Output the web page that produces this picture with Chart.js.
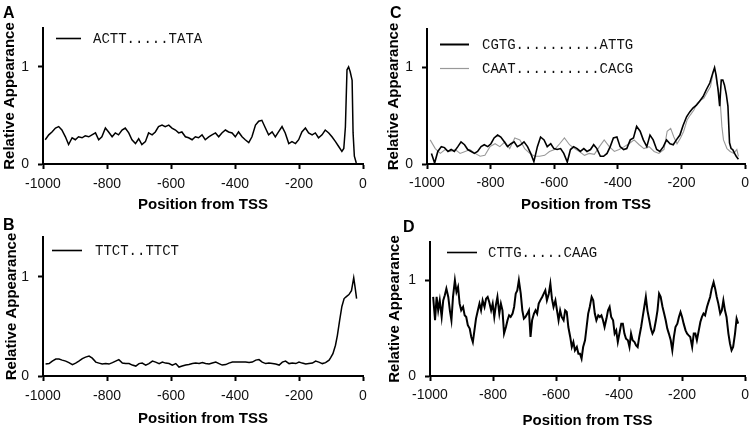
<!DOCTYPE html>
<html>
<head>
<meta charset="utf-8">
<script src="https://cdn.jsdelivr.net/npm/chart.js@4.4.1/dist/chart.umd.min.js"></script>
<style>
  html, body { margin: 0; padding: 0; background: #fff; }
  #wrap { position: relative; width: 755px; height: 429px; overflow: hidden; }
  canvas { position: absolute; }
</style>
</head>
<body>
<div id="wrap">
  <canvas id="chartA" width="378" height="214" style="left:0;top:0"></canvas>
  <canvas id="chartC" width="377" height="214" style="left:378px;top:0"></canvas>
  <canvas id="chartB" width="378" height="215" style="left:0;top:214px"></canvas>
  <canvas id="chartD" width="377" height="215" style="left:378px;top:214px"></canvas>
</div>
<script>
// axis ticks shared by all four panels
const xTicks = [-1000, -800, -600, -400, -200, 0];
const yTicks = [0, 1];
const xTitle = "Position from TSS";
const yTitle = "Relative Appearance";

// panel A
const labelA = "ACTT.....TATA";
const posA = [-993, -982, -972, -961, -951, -941, -930, -920, -909, -899,
  -889, -878, -868, -857, -847, -836, -826, -816, -805, -795,
  -784, -774, -764, -753, -743, -732, -722, -711, -701, -691,
  -680, -670, -659, -649, -639, -628, -618, -607, -597, -586,
  -576, -566, -555, -545, -534, -524, -514, -503, -493, -482,
  -472, -461, -451, -441, -430, -420, -409, -399, -389, -378,
  -368, -357, -347, -336, -326, -316, -305, -295, -284, -274,
  -264, -253, -243, -232, -222, -211, -201, -191, -180, -170,
  -159, -149, -139, -128, -118, -107, -97, -86, -76, -66,
  -60, -55, -50, -45, -40, -34, -31, -27, -21];
const valA = [0.25, 0.30, 0.33, 0.37, 0.385, 0.35, 0.28, 0.20, 0.27, 0.25,
  0.28, 0.27, 0.29, 0.28, 0.30, 0.32, 0.25, 0.28, 0.37, 0.33,
  0.28, 0.32, 0.30, 0.35, 0.37, 0.32, 0.25, 0.21, 0.26, 0.20,
  0.23, 0.32, 0.30, 0.33, 0.385, 0.40, 0.385, 0.40, 0.37, 0.35,
  0.32, 0.33, 0.28, 0.27, 0.25, 0.28, 0.27, 0.30, 0.25, 0.28,
  0.30, 0.32, 0.28, 0.32, 0.35, 0.33, 0.32, 0.28, 0.33, 0.28,
  0.25, 0.22, 0.28, 0.40, 0.44, 0.45, 0.37, 0.30, 0.33, 0.28,
  0.33, 0.385, 0.32, 0.21, 0.23, 0.21, 0.25, 0.33, 0.37, 0.32,
  0.30, 0.32, 0.27, 0.30, 0.35, 0.32, 0.28, 0.23, 0.18, 0.13,
  0.16, 0.38, 0.97, 1.0, 0.95, 0.86, 0.32, 0.08, 0.01];

// panel B
const labelB = "TTCT..TTCT";
const posB = [-992, -981, -971, -960, -950, -940, -929, -919, -908, -898,
  -888, -877, -867, -856, -846, -835, -825, -815, -804, -794,
  -783, -773, -763, -752, -742, -731, -721, -710, -700, -690,
  -679, -669, -658, -648, -637, -627, -617, -606, -596, -585,
  -575, -565, -554, -544, -533, -523, -512, -502, -492, -481,
  -471, -460, -450, -440, -429, -419, -408, -398, -388, -377,
  -367, -356, -346, -335, -325, -315, -304, -294, -283, -273,
  -262, -252, -242, -231, -221, -210, -200, -190, -179, -169,
  -158, -148, -138, -127, -117, -106,
  -101, -94, -86, -80, -73, -66, -59, -52, -44, -36, -29, -25, -20];
const valB = [0.12, 0.125, 0.15, 0.17, 0.17, 0.16, 0.15, 0.135, 0.115, 0.13,
  0.15, 0.175, 0.19, 0.2, 0.18, 0.14, 0.13, 0.12, 0.125, 0.12,
  0.135, 0.15, 0.165, 0.13, 0.125, 0.125, 0.11, 0.1, 0.125, 0.13,
  0.11, 0.125, 0.15, 0.14, 0.125, 0.14, 0.13, 0.125, 0.11, 0.125,
  0.09, 0.1, 0.11, 0.115, 0.125, 0.13, 0.125, 0.135, 0.125, 0.12,
  0.13, 0.14, 0.125, 0.11, 0.115, 0.13, 0.14, 0.14, 0.14, 0.14,
  0.14, 0.135, 0.14, 0.16, 0.165, 0.14, 0.125, 0.13, 0.125, 0.12,
  0.11, 0.14, 0.15, 0.125, 0.13, 0.125, 0.14, 0.13, 0.12, 0.125,
  0.13, 0.15, 0.14, 0.125, 0.135, 0.16,
  0.185, 0.225, 0.31, 0.41, 0.56, 0.70, 0.78, 0.80, 0.82, 0.86, 0.99, 0.90, 0.78];

// panel C, two motifs
const labelC1 = "CGTG..........ATTG";
const labelC2 = "CAAT..........CACG";
const posC1 = [-986, -976, -966, -955, -945, -934, -924, -914, -903, -893,
  -882, -872, -861, -851, -841, -830, -820, -809, -799, -789,
  -778, -768, -757, -747, -736, -726, -716, -705, -695, -684,
  -674, -664, -653, -643, -632, -622, -611, -601, -591, -580,
  -570, -559, -549, -539, -528, -518, -507, -497, -486, -476,
  -466, -455, -445, -434, -424, -414, -403, -393, -382, -372,
  -361, -351, -341, -330, -320, -309, -299, -289, -278, -268,
  -257, -247, -236, -226, -216, -205, -195, -184, -174, -164,
  -153, -143, -132, -122, -111, -101,
  -96, -91, -85, -80, -75, -70, -65, -59, -54, -49, -44, -39, -33, -28, -21];
const valC1 = [0.11, 0.01, 0.13, 0.18, 0.17, 0.13, 0.15, 0.13, 0.18, 0.23,
  0.2, 0.15, 0.13, 0.11, 0.13, 0.18, 0.2, 0.18, 0.21, 0.27,
  0.3, 0.28, 0.23, 0.18, 0.21, 0.23, 0.18, 0.2, 0.23, 0.18,
  0.11, 0.025, 0.18, 0.28, 0.25, 0.18, 0.21, 0.16, 0.15, 0.16,
  0.11, 0.02, 0.15, 0.18, 0.16, 0.13, 0.16, 0.13, 0.15, 0.2,
  0.16, 0.08, 0.08, 0.11, 0.18, 0.27, 0.28, 0.18, 0.15, 0.16,
  0.25, 0.27, 0.39, 0.34, 0.25, 0.18, 0.3, 0.25, 0.15, 0.13,
  0.18, 0.25, 0.21, 0.2, 0.25, 0.3, 0.4, 0.49, 0.54, 0.58,
  0.61, 0.65, 0.7, 0.77, 0.84, 0.95,
  1.0, 0.92, 0.77, 0.6, 0.87, 0.87, 0.82, 0.72, 0.6, 0.22, 0.16, 0.15, 0.11, 0.08, 0.05];
const posC2 = [-990, -974, -958, -943, -927, -911, -896, -880, -865, -849,
  -833, -818, -802, -786, -771, -755, -740, -724, -708, -693,
  -677, -661, -646, -630, -615, -599, -583, -568, -552, -536,
  -521, -505, -490, -474, -458, -443, -427, -411, -396, -380,
  -365, -349, -333, -318, -302, -286, -271, -255,
  -245, -234, -224, -214, -203, -193, -182, -172, -161, -151, -141, -130, -120, -109, -99,
  -94, -89, -83, -78, -73, -68, -57, -47, -36, -26, -21];
const valC2 = [0.25, 0.16, 0.11, 0.15, 0.13, 0.15, 0.11, 0.13, 0.15, 0.11,
  0.08, 0.09, 0.18, 0.21, 0.18, 0.23, 0.16, 0.27, 0.25, 0.16,
  0.11, 0.08, 0.08, 0.09, 0.13, 0.15, 0.21, 0.27, 0.2, 0.16,
  0.13, 0.09, 0.11, 0.1, 0.18, 0.25, 0.18, 0.13, 0.15, 0.18,
  0.21, 0.25, 0.2, 0.16, 0.18, 0.13, 0.11, 0.15,
  0.34, 0.37, 0.28, 0.21, 0.27, 0.34, 0.46, 0.51, 0.56, 0.63, 0.66, 0.68, 0.74, 0.8, 0.97,
  0.96, 0.84, 0.74, 0.63, 0.39, 0.25, 0.16, 0.13, 0.11, 0.15, 0.08];

// panel D
const labelD = "CTTG.....CAAG";
const posD = [-990, -984, -979, -974, -969, -963, -958, -953, -948, -942,
  -937, -932, -927, -921, -916, -911, -906, -901, -895, -890,
  -885, -880, -874, -869, -864, -859, -854, -848, -843, -838,
  -833, -827, -822, -817, -812, -806, -801, -796, -791, -786,
  -780, -775, -770, -765, -759, -754, -749, -744, -738, -733,
  -728, -723, -718, -712, -707, -702, -697, -691, -686, -681,
  -676, -670, -665, -660, -655, -650, -644, -639, -634, -629,
  -623, -618, -613, -608, -602, -597, -592, -587, -582, -576,
  -571, -566, -561, -555, -550, -545, -540, -534, -529, -524,
  -519, -514, -508, -503, -498, -493, -487, -482, -477, -472,
  -466, -461, -456, -451, -446, -440, -435, -430, -425, -419,
  -414, -409, -404, -398, -393, -388, -383, -378, -372, -367,
  -362, -357, -351, -346, -341, -336, -330, -325, -320, -315,
  -310, -304, -299, -294, -289, -283, -278, -273, -268, -262,
  -257, -252, -247, -242, -236, -231, -226, -221, -215, -210,
  -205, -200, -195, -189, -184, -179, -174, -168, -163, -158,
  -153, -147, -142, -137, -132, -127, -121, -116, -111, -106,
  -100, -95, -90, -85, -79, -74, -69, -64, -59, -53,
  -48, -43, -38, -32, -27, -22];
const valD = [0.826, 0.582, 0.826, 0.686, 0.79, 0.617, 0.79, 0.843, 0.913, 0.826,
  0.686, 0.582, 0.826, 1.0, 0.878, 0.93, 0.756, 0.686, 0.721, 0.634,
  0.617, 0.53, 0.495, 0.408, 0.355, 0.477, 0.6, 0.686, 0.756, 0.686,
  0.79, 0.721, 0.808, 0.826, 0.774, 0.686, 0.756, 0.617, 0.739, 0.826,
  0.652, 0.756, 0.686, 0.443, 0.512, 0.582, 0.634, 0.617, 0.652, 0.721,
  0.86, 0.895, 1.0, 0.86, 0.686, 0.6, 0.617, 0.652, 0.686, 0.408,
  0.582, 0.652, 0.686, 0.652, 0.756, 0.79, 0.826, 0.86, 0.895, 0.79,
  0.86, 0.965, 0.808, 0.721, 0.79, 0.686, 0.582, 0.686, 0.617, 0.582,
  0.686, 0.669, 0.512, 0.408, 0.303, 0.355, 0.268, 0.303, 0.233, 0.233,
  0.181, 0.303, 0.373, 0.512, 0.652, 0.721, 0.826, 0.79, 0.652, 0.582,
  0.634, 0.617, 0.634, 0.582, 0.512, 0.6, 0.686, 0.721, 0.617, 0.582,
  0.443, 0.477, 0.355, 0.46, 0.547, 0.547, 0.443, 0.39, 0.373, 0.303,
  0.443, 0.373, 0.355, 0.32, 0.303, 0.408, 0.512, 0.617, 0.721, 0.826,
  0.686, 0.582, 0.495, 0.443, 0.477, 0.582, 0.686, 0.86, 0.826, 0.721,
  0.652, 0.582, 0.495, 0.443, 0.373, 0.268, 0.408, 0.512, 0.547, 0.617,
  0.669, 0.617, 0.547, 0.477, 0.443, 0.425, 0.408, 0.303, 0.443, 0.443,
  0.373, 0.477, 0.564, 0.617, 0.652, 0.634, 0.721, 0.774, 0.826, 0.913,
  0.98, 0.913, 0.826, 0.756, 0.652, 0.686, 0.79, 0.686, 0.617, 0.443,
  0.338, 0.268, 0.303, 0.443, 0.6, 0.547];

function series(pos, val) {
  return pos.map((x, i) => ({ x: x, y: val[i] }));
}

// panel letter + inline legend drawn inside the plot area
const panelDecor = {
  id: "panelDecor",
  afterDraw(chart, args, o) {
    const { ctx, chartArea } = chart;
    ctx.save();
    ctx.fillStyle = "#000";
    ctx.textBaseline = "alphabetic";
    ctx.textAlign = "left";
    ctx.font = "bold 16px 'Liberation Sans', Arial, sans-serif";
    ctx.fillText(o.letter, o.letterX, o.letterY);

    ctx.font = "14px 'Courier New', 'Liberation Mono', monospace";
    ctx.textBaseline = "middle";
    chart.data.datasets.forEach((ds, i) => {
      const y = Math.round(chartArea.top + o.legendY + i * 24) + 0.5;
      const x0 = chartArea.left + o.legendX;
      ctx.strokeStyle = ds.borderColor;
      ctx.lineWidth = ds.legendWidth;
      ctx.beginPath();
      ctx.moveTo(x0, y);
      ctx.lineTo(x0 + o.legendLen, y);
      ctx.stroke();
      ctx.fillStyle = "#111";
      ctx.fillText(ds.label, chartArea.left + o.textX, y + 1);
    });
    ctx.restore();
  },
};

const tickFont = { family: "'Liberation Sans', Arial, sans-serif", size: 14 };
const titleFont = { family: "'Liberation Sans', Arial, sans-serif", size: 15, weight: "bold", lineHeight: 1 };

function makePanel(id, datasets, p) {
  return new Chart(document.getElementById(id), {
    type: "line",
    data: { datasets: datasets },
    options: {
      responsive: false,
      animation: false,
      devicePixelRatio: 1,
      layout: { padding: { top: p.top, right: p.right, bottom: 0, left: 0 } },
      elements: { point: { radius: 0 }, line: { tension: 0 } },
      plugins: {
        legend: { display: false },
        tooltip: { enabled: false },
        panelDecor: p.decor,
      },
      scales: {
        x: {
          type: "linear",
          min: -1000,
          max: 0,
          afterBuildTicks: (s) => { s.ticks = xTicks.map((v) => ({ value: v })); },
          afterFit: (s) => { s.height = p.xHeight; },
          ticks: { callback: (v) => String(v), font: tickFont, color: "#111", padding: p.xTickPad, maxRotation: 0 },
          grid: { drawOnChartArea: false, drawTicks: true, tickLength: 5, tickWidth: 2, tickColor: "#000" },
          border: { display: true, color: "#000", width: 2 },
          title: { display: true, text: xTitle, font: titleFont, color: "#000", padding: { top: 0, bottom: p.xTitlePad } },
        },
        y: {
          min: 0,
          max: 1.4,
          afterBuildTicks: (s) => { s.ticks = yTicks.map((v) => ({ value: v })); },
          afterFit: (s) => { s.width = p.yWidth; },
          ticks: { font: tickFont, color: "#111", padding: 9 },
          grid: { drawOnChartArea: false, drawTicks: true, tickLength: 5, tickWidth: 2, tickColor: "#000" },
          border: { display: true, color: "#000", width: 2 },
          title: { display: true, text: yTitle, font: titleFont, color: "#000", padding: { top: p.yTitlePad, bottom: 0 } },
        },
      },
    },
    plugins: [panelDecor],
  });
}

makePanel("chartA", [
  { label: labelA, data: series(posA, valA), borderColor: "#000", borderWidth: 1.5, legendWidth: 1.6 },
], {
  top: 28, right: 15, yWidth: 43, xHeight: 50, xTickPad: 7, xTitlePad: 1.5, yTitlePad: 2,
  decor: { letter: "A", letterX: 3, letterY: 18, legendX: 13, legendY: 10, legendLen: 25, textX: 50 },
});

makePanel("chartC", [
  { label: labelC1, data: series(posC1, valC1), borderColor: "#000", borderWidth: 1.6, legendWidth: 2 },
  { label: labelC2, data: series(posC2, valC2), borderColor: "#999", borderWidth: 1.1, legendWidth: 1.2 },
], {
  top: 29, right: 8, yWidth: 49, xHeight: 50, xTickPad: 6, xTitlePad: 1.5, yTitlePad: 8.5,
  decor: { letter: "C", letterX: 12, letterY: 18, legendX: 13, legendY: 15, legendLen: 29, textX: 55 },
});

makePanel("chartB", [
  { label: labelB, data: series(posB, valB), borderColor: "#000", borderWidth: 1.5, legendWidth: 1.6 },
], {
  top: 23, right: 15, yWidth: 43, xHeight: 53, xTickPad: 6.5, xTitlePad: 2.5, yTitlePad: 4,
  decor: { letter: "B", letterX: 3, letterY: 16, legendX: 9, legendY: 13, legendLen: 30, textX: 52 },
});

makePanel("chartD", [
  { label: labelD, data: series(posD, valD), borderColor: "#000", borderWidth: 2, legendWidth: 1.6 },
], {
  top: 28, right: 6, yWidth: 52, xHeight: 53, xTickPad: 6, xTitlePad: 0.5, yTitlePad: 9.5,
  decor: { letter: "D", letterX: 25, letterY: 18, legendX: 17, legendY: 10, legendLen: 30, textX: 58 },
});
</script>
</body>
</html>
